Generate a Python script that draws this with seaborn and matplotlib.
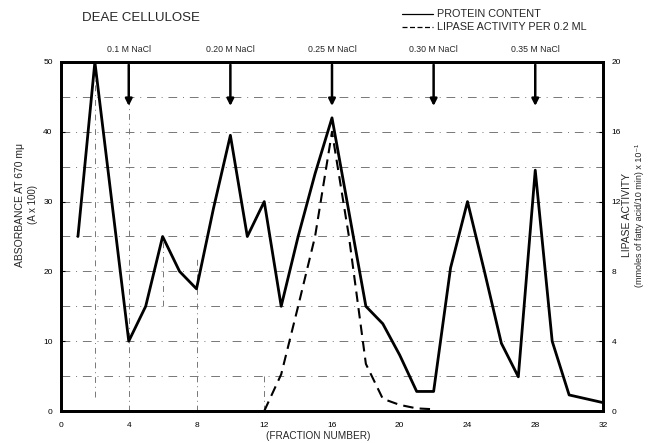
import matplotlib
matplotlib.use("Agg")
import matplotlib.pyplot as plt
import seaborn as sns
import pandas as pd

# ---- data ----
protein_fraction = [1, 2, 3, 4, 5, 6, 7, 8, 9, 10, 11, 12, 13, 14, 15, 16, 17, 18, 19, 20, 21, 22, 23, 24, 25, 26, 27, 28, 29, 30, 32]
protein_abs = [25, 50, 30, 10, 15, 25, 20, 17.5, 29, 39.5, 25, 30, 15, 25, 34, 42, 28.5, 15, 12.5, 8, 2.8, 2.8, 20.5, 30, 20, 9.7, 4.9, 34.5, 10, 2.3, 1.2]
lipase_fraction = [12, 13, 14, 15, 16, 17, 18, 19, 20, 21, 22]
lipase_activity = [0, 2.1, 6, 10, 16, 10, 2.7, 0.7, 0.35, 0.15, 0.1]
salt_fraction = [4, 10, 16, 22, 28]
salt_labels = ["0.1 M NaCl", "0.20 M NaCl", "0.25 M NaCl", "0.30 M NaCl", "0.35 M NaCl"]
x_ticks = [0, 4, 8, 12, 16, 20, 24, 28, 32]
left_ticks = [0, 10, 20, 30, 40, 50]
right_ticks = [0, 4, 8, 12, 16, 20]

sns.set_style("white")
plt.rcParams['font.family'] = ['Liberation Sans', 'DejaVu Sans']

fig = plt.figure(figsize=(6.49, 4.43), dpi=100)
ax = fig.add_axes([61/649, 1-411/443, (603-61)/649, (411-62)/443])
ax2 = ax.twinx()

df_p = pd.DataFrame({"fraction": protein_fraction, "abs": protein_abs})
df_l = pd.DataFrame({"fraction": lipase_fraction, "act": lipase_activity})

# grid (dash-dot, scanned look)
for yv in range(5, 50, 5):
    ax.axhline(yv, color="#777777", lw=0.7, ls=(0, (9, 6, 1, 6)), zorder=0)
for xv, y0, y1 in [(2, 2, 50), (4, 0, 50), (8, 0, 22), (12, 0, 5), (6, 15, 25)]:
    ax.plot([xv, xv], [y0, y1], color="#777777", lw=0.7, ls=(0, (6, 4, 1, 4)), zorder=0)

sns.lineplot(data=df_p, x="fraction", y="abs", ax=ax, color="black", lw=2.0, zorder=3)
sns.lineplot(data=df_l, x="fraction", y="act", ax=ax2, color="black", lw=1.5,
             linestyle=(0, (5, 3)), zorder=3)

ax.set_xlim(0, 32)
ax.set_ylim(0, 50)
ax2.set_ylim(0, 20)
ax.set_xticks(x_ticks)
ax.set_yticks(left_ticks)
ax2.set_yticks(right_ticks)
ax.set_xlabel("")
ax.set_ylabel("")
ax2.set_ylabel("")

for a in (ax, ax2):
    for s in a.spines.values():
        s.set_linewidth(2.0)
        s.set_color("black")
    a.tick_params(direction="in", length=3, width=0.8, labelsize=6, pad=6, colors="black")
ax.tick_params(axis="x", pad=8)

# salt arrows
for xf, lab in zip(salt_fraction, salt_labels):
    ax.annotate("", xy=(xf, 43.3), xytext=(xf, 50),
                arrowprops=dict(arrowstyle="-|>", color="black", lw=1.8, mutation_scale=10),
                zorder=4)
    ax.text(xf, 51.2, lab, ha="center", va="bottom", fontsize=6.3)

fig.text(82/649, 1-18/443, "DEAE CELLULOSE", fontsize=9.5, ha="left", va="center")

# legend
fig.lines.append(plt.Line2D([402/649, 433/649], [1-14/443, 1-14/443], color="black", lw=0.9,
                            transform=fig.transFigure))
fig.lines.append(plt.Line2D([402/649, 433/649], [1-27/443, 1-27/443], color="black", lw=0.9,
                            ls=(0, (4, 2)), transform=fig.transFigure))
fig.text(437/649, 1-14/443, "PROTEIN CONTENT", fontsize=7.8, ha="left", va="center")
fig.text(437/649, 1-27/443, "LIPASE ACTIVITY PER 0.2 ML", fontsize=7.8, ha="left", va="center")

fig.text(20/649, 1-205/443, "ABSORBANCE AT 670 m\u03bc", fontsize=7.5, rotation=90, ha="center", va="center")
fig.text(33/649, 1-205/443, "(A x 100)", fontsize=7, rotation=90, ha="center", va="center")
fig.text(627/649, 1-215/443, "LIPASE ACTIVITY", fontsize=7.5, rotation=90, ha="center", va="center")
fig.text(640/649, 1-215/443, "(mmoles of fatty acid/10 min) x 10\u207b\u00b9", fontsize=6.5, rotation=90,
         ha="center", va="center")
fig.text(318/649, 1-436/443, "(FRACTION NUMBER)", fontsize=7.2, ha="center", va="center")

fig.savefig("out.png", dpi=100)
